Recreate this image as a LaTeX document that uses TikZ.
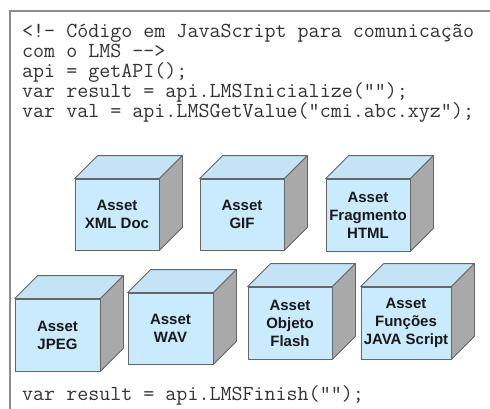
\documentclass[tikz,border=0pt]{standalone}
\usepackage{fontspec}
\newfontfamily\assetfont{Liberation Sans}
\definecolor{framegray}{HTML}{8C8C8C}
\definecolor{edgegray}{HTML}{666666}
\definecolor{cubefront}{HTML}{C9EBFD}
\definecolor{cubetop}{HTML}{C4E4F6}
\definecolor{cubeside}{HTML}{A9A9A9}
\definecolor{codeink}{HTML}{333333}
\tikzset{
  x=1pt, y=-1pt,
  codeline/.style={anchor=base west, inner sep=0pt, text=codeink,
    font=\ttfamily\fontsize{21.4}{20}\selectfont},
  cubefront/.style={draw=edgegray, fill=cubefront, line width=0.8pt,
    inner sep=0pt, align=center, text=black!90,
    font=\assetfont\bfseries\fontsize{15}{18}\selectfont},
  cubetop/.style={draw=edgegray, fill=cubetop, line width=0.8pt, line join=round},
  cubeside/.style={draw=edgegray, fill=cubeside, line width=0.8pt, line join=round},
}
% #1 name, #2 left, #3 top, #4 right, #5 bottom, #6 label
\newcommand\assetcube[6]{%
  \node[cubefront, minimum width={#4-#2}, minimum height={#5-#3}]
    (#1) at ({(#2+#4)/2},{(#3+#5)/2}) {#6};
  \draw[cubetop] (#1.north west) -- ++(23,-23) -- ([shift={(23,-23)}]#1.north east)
    -- (#1.north east) -- cycle;
  \draw[cubeside] (#1.north east) -- ++(23,-23) -- ([shift={(23,-23)}]#1.south east)
    -- (#1.south east) -- cycle;
}
\begin{document}
\begin{tikzpicture}
  \useasboundingbox[fill=white] (0,0) rectangle (490,408);
  % outer frame, running off the right and bottom edges
  \draw[framegray, line width=1.5pt] (500,11) -- (10,11) -- (10,420);

  % script text
  \node[codeline] (code1) at (22,37) {<!- Código em JavaScript para comunicação};
  \node[codeline] (code2) at (22,57) {com o LMS -->};
  \node[codeline] (code3) at (22,77) {api = getAPI();};
  \node[codeline] (code4) at (22,97) {var result = api.LMSInicialize(“”);};
  \node[codeline] (code5) at (22,117) {var val = api.LMSGetValue(“cmi.abc.xyz”);};

  % assets, upper row
  \assetcube{xml}{75}{179}{159}{250}{Asset\\XML Doc}
  \assetcube{gif}{200}{179}{284}{250}{Asset\\GIF}
  \assetcube{html}{326}{179}{410}{251}{Asset\\Fragmento\\HTML}

  % assets, lower row
  \assetcube{jpeg}{15}{299}{100}{371}{Asset\\JPEG}
  \assetcube{wav}{128}{293}{213}{364}{Asset\\WAV}
  \assetcube{flash}{248}{287}{332}{359}{Asset\\Objeto\\Flash}
  \assetcube{js}{361}{287}{451}{359}{Asset\\Funções\\JAVA Script}

  \node[codeline] (finish) at (22,400) {var result = api.LMSFinish(“”);};
\end{tikzpicture}
\end{document}
